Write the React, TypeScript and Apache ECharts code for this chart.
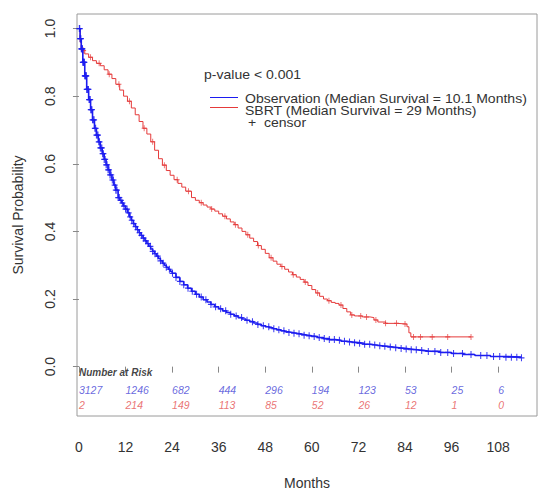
import React, { useEffect, useRef } from "react";
import * as echarts from "echarts";

const monthTicks = [0, 12, 24, 36, 48, 60, 72, 84, 96, 108];
const probTicks = [0, 0.2, 0.4, 0.6, 0.8, 1.0];

const observationCurve: [number, number][] = [
  [0, 1.0], [0.3, 0.97], [0.6, 0.94], [1.0, 0.9], [1.5, 0.86], [2.0, 0.82], [2.5, 0.79],
  [3.0, 0.76], [3.5, 0.73], [4.0, 0.705], [4.5, 0.685], [5.0, 0.665], [5.5, 0.647],
  [6.0, 0.63], [6.5, 0.613], [7.0, 0.597], [7.5, 0.582], [8.0, 0.567], [8.5, 0.552],
  [9.0, 0.537], [9.5, 0.522], [10.1, 0.5], [10.5, 0.492], [11.0, 0.484], [11.5, 0.475],
  [12, 0.466], [12.5, 0.455], [13, 0.443], [13.5, 0.433], [14, 0.423], [14.5, 0.414],
  [15, 0.405], [15.5, 0.396], [16, 0.388], [16.5, 0.38], [17, 0.372], [17.5, 0.364],
  [18, 0.356], [18.5, 0.348], [19, 0.341], [19.5, 0.334], [20, 0.327], [20.5, 0.32],
  [21, 0.313], [21.5, 0.306], [22, 0.3], [22.5, 0.294], [23, 0.288], [23.5, 0.282],
  [24, 0.276], [25, 0.264], [26, 0.252], [27, 0.242], [28, 0.232], [29, 0.223],
  [30, 0.214], [31, 0.206], [32, 0.198], [33, 0.191], [34, 0.184], [35, 0.177],
  [36, 0.171], [37, 0.165], [38, 0.16], [39, 0.155], [40, 0.15], [41, 0.145],
  [42, 0.141], [43, 0.137], [44, 0.133], [45, 0.129], [46, 0.125], [47, 0.121],
  [48, 0.118], [49, 0.115], [50, 0.112], [51, 0.109], [52, 0.106], [53, 0.103],
  [54, 0.101], [55, 0.099], [56, 0.097], [57, 0.095], [58, 0.093], [59, 0.091],
  [60, 0.089], [61.5, 0.086], [63, 0.083], [64.5, 0.08], [66, 0.078], [67.5, 0.075],
  [69, 0.073], [70.5, 0.071], [72, 0.069], [73.5, 0.066], [75, 0.064], [76.5, 0.062],
  [78, 0.06], [79.5, 0.058], [81, 0.056], [82.5, 0.054], [84, 0.052], [85.5, 0.05],
  [87, 0.048], [88.5, 0.046], [90, 0.045], [93, 0.042], [96, 0.039], [99, 0.036],
  [102, 0.033], [106, 0.03], [110, 0.028], [114, 0.026],
];

const sbrtCurve: [number, number][] = [
  [0, 1.0], [0.3, 0.96], [0.6, 0.935], [1.5, 0.925], [2.5, 0.915], [3.5, 0.905],
  [4.5, 0.897], [5.5, 0.89], [6.5, 0.878], [7.5, 0.865], [8.5, 0.852], [9.5, 0.835],
  [10.5, 0.818], [11.5, 0.8], [12.5, 0.785], [13.5, 0.765], [14.5, 0.745], [15.5, 0.725],
  [16.5, 0.705], [17.5, 0.688], [18.5, 0.665], [19.5, 0.64], [20.5, 0.615], [21.5, 0.596],
  [22.5, 0.58], [23.5, 0.566], [24.5, 0.553], [25.5, 0.542], [26.5, 0.531], [27.5, 0.519],
  [29, 0.5], [30, 0.492], [31, 0.485], [32, 0.478], [33, 0.472], [34, 0.466], [35, 0.46],
  [36, 0.452], [37, 0.445], [38, 0.437], [39, 0.428], [40, 0.42], [41, 0.41], [42, 0.4],
  [43, 0.39], [44, 0.38], [45, 0.37], [46, 0.358], [47, 0.347], [48, 0.335], [49, 0.322],
  [50, 0.312], [51, 0.303], [52, 0.296], [53, 0.288], [54, 0.28], [55, 0.272], [56, 0.265],
  [57, 0.258], [58, 0.25], [59, 0.24], [60, 0.228], [61, 0.218], [62, 0.208], [63, 0.2],
  [64, 0.195], [65, 0.19], [66, 0.187], [67, 0.182], [68, 0.172], [69, 0.162], [70, 0.153],
  [71, 0.15], [73, 0.147], [75, 0.145], [76, 0.138], [77, 0.132], [79, 0.128], [82, 0.126],
  [84.5, 0.118], [85, 0.1], [85.5, 0.088], [101, 0.088],
];

const observationCensor = [
  0.1, 0.2, 0.3, 0.4, 0.5, 0.6, 0.7, 0.8, 0.9, 1.0, 1.1, 1.2, 1.3, 1.4, 1.5, 1.6, 1.7,
  1.8, 1.9, 2.0, 2.15, 2.3, 2.45, 2.6, 2.75, 2.9, 3.05, 3.2, 3.35, 3.5, 3.7, 3.9, 4.1,
  4.3, 4.5, 4.7, 4.9, 5.1, 5.3, 5.5, 5.7, 5.9, 6.1, 6.3, 6.5, 6.75, 7.0, 7.25, 7.5,
  7.75, 8.0, 8.3, 8.6, 8.9, 9.2, 9.5, 9.8, 10.1, 10.4, 10.8, 11.2, 11.6, 12.0, 12.4,
  12.8, 13.2, 13.6, 14.1, 14.6, 15.1, 15.6, 16.1, 16.6, 17.2, 17.8, 18.4, 19.0, 19.6,
  20.3, 21.0, 21.7, 22.5, 23.3, 24.1, 25.0, 26.0, 27.0, 28.1, 29.2, 30.3, 31.5, 32.7,
  34.0, 35.2, 36.5, 37.8, 39.1, 40.5, 41.9, 43.3, 44.7, 46.1, 47.5, 48.9, 50.2, 51.5,
  52.8, 54.1, 55.4, 56.7, 58.0, 59.3, 60.6, 61.9, 63.2, 64.5, 65.8, 67.1, 68.4, 69.7,
  71.0, 72.3, 73.6, 74.9, 76.2, 77.5, 78.8, 80.2, 81.6, 83.0, 84.3, 85.6, 86.9, 88.3,
  90.0, 91.7, 93.2, 95.0, 96.5, 98.8, 101.0, 103.5, 105.1, 106.8, 108.4, 110.0, 111.4,
  112.8, 114.0,
];

const sbrtCensor = [
  1.2, 3.0, 5.2, 7.8, 10.3, 13.0, 16.8, 19.0, 22.0, 25.3, 28.2, 31.5, 34.2, 37.6, 40.3,
  43.5, 46.2, 49.5, 52.3, 55.2, 58.3, 61.5, 64.4, 67.5, 70.3, 72.6, 74.1, 76.5, 79.0,
  81.8, 84.0, 86.2, 88.0, 91.0, 95.0, 101.0,
];

const riskMonths = [0, 12, 24, 36, 48, 60, 72, 84, 96, 108];
const riskObservation = [3127, 1246, 682, 444, 296, 194, 123, 53, 25, 6];
const riskSBRT = [2, 214, 149, 113, 85, 52, 26, 12, 1, 0];

const BLUE = "#1c1cf0";
const RED = "#e53a3a";
const PLUS = "path://M6,0H8.5V6H14.5V8.5H8.5V14.5H6V8.5H0V6H6Z";

function stepValue(curve: [number, number][], t: number): number {
  let v = curve[0][1];
  for (const [x, y] of curve) {
    if (x <= t) v = y;
    else break;
  }
  return v;
}

export default function App() {
  const ref = useRef<HTMLDivElement>(null);
  useEffect(() => {
    if (!ref.current) return;
    const chart = echarts.init(ref.current, undefined, { renderer: "svg" });
    const font = "'Liberation Sans', Arial, sans-serif";
    const riskRow = (vals: number[], y: number) =>
      riskMonths.map((m, i) => ({
        value: [m, y],
        label: { formatter: String(vals[i]) },
      }));
    const legendText = (text: string, x: number, y: number) => ({
      type: "text", x, y, scaleX: 1.17, scaleY: 1,
      style: { text, fontSize: 12, lineHeight: 11, fill: "#333", fontFamily: font, verticalAlign: "middle" },
    });
    chart.setOption({
      animation: false,
      textStyle: { fontFamily: font },
      grid: {
        left: 77, top: 14, width: 460, height: 416,
        show: true, borderColor: "#9a9a9a", borderWidth: 1, backgroundColor: "transparent",
      },
      xAxis: {
        type: "value", min: -0.5, max: 118,
        name: "Months", nameLocation: "middle", nameGap: 60,
        nameTextStyle: { fontSize: 14, color: "#333", fontFamily: font },
        axisLine: { show: false },
        axisTick: { show: true, length: 6, customValues: monthTicks, lineStyle: { color: "#888" } },
        axisLabel: { customValues: monthTicks, fontSize: 14, color: "#333", margin: 24, fontFamily: font },
        splitLine: { show: false },
      },
      yAxis: {
        type: "value", min: -0.146, max: 1.043,
        name: "Survival Probability", nameLocation: "middle", nameGap: 52,
        nameTextStyle: { fontSize: 14, color: "#333", fontFamily: font },
        axisLine: { show: false },
        axisTick: { show: true, length: 6, customValues: probTicks, lineStyle: { color: "#888" } },
        axisLabel: {
          customValues: probTicks, fontSize: 14, color: "#333", rotate: 90, margin: 20,
          fontFamily: font, formatter: (v: number) => v.toFixed(1),
        },
        splitLine: { show: false },
      },
      series: [
        {
          type: "line", step: "end", data: observationCurve, showSymbol: false,
          lineStyle: { color: BLUE, width: 1.6 }, z: 3,
        },
        {
          type: "line", step: "end", data: sbrtCurve, showSymbol: false,
          lineStyle: { color: RED, width: 1 }, z: 2,
        },
        {
          type: "scatter", symbol: PLUS, symbolSize: [6, 7],
          data: observationCensor.map((t) => [t, stepValue(observationCurve, t)]),
          itemStyle: { color: BLUE, opacity: 0.85 }, z: 4,
        },
        {
          type: "scatter", symbol: PLUS, symbolSize: [5, 6],
          data: sbrtCensor.map((t) => [t, stepValue(sbrtCurve, t)]),
          itemStyle: { color: RED, opacity: 0.8 }, z: 2,
        },
        {
          type: "scatter", symbolSize: 0, silent: true,
          data: [{ value: [0, -0.016], label: { formatter: "Number at Risk" } }],
          label: {
            show: true, position: "inside", align: "left", verticalAlign: "middle",
            fontSize: 10, fontStyle: "italic", fontWeight: "bold", color: "#111", fontFamily: font,
          },
        },
        {
          type: "scatter", symbolSize: 0, silent: true,
          data: riskRow(riskObservation, -0.068),
          label: {
            show: true, position: "inside", align: "left", verticalAlign: "middle",
            fontSize: 10.5, fontStyle: "italic", color: "#4343d6", fontFamily: font,
          },
        },
        {
          type: "scatter", symbolSize: 0, silent: true,
          data: riskRow(riskSBRT, -0.114),
          label: {
            show: true, position: "inside", align: "left", verticalAlign: "middle",
            fontSize: 10.5, fontStyle: "italic", color: "#e55050", fontFamily: font,
          },
        },
      ],
      graphic: [
        legendText("p-value < 0.001", 204, 75),
        { type: "line", shape: { x1: 210, y1: 97.5, x2: 238, y2: 97.5 }, style: { stroke: BLUE, lineWidth: 1 } },
        { type: "line", shape: { x1: 210, y1: 107.5, x2: 238, y2: 107.5 }, style: { stroke: RED, lineWidth: 1 } },
        legendText("Observation (Median Survival = 10.1 Months)", 245, 99),
        legendText("SBRT (Median Survival = 29 Months)", 245, 111),
        legendText("+  censor", 248, 123),
      ],
    });
    return () => chart.dispose();
  }, []);
  return (
    <div
      ref={ref}
      style={{ position: "fixed", left: 0, top: 0, width: 539, height: 495, background: "#fff" }}
    />
  );
}
